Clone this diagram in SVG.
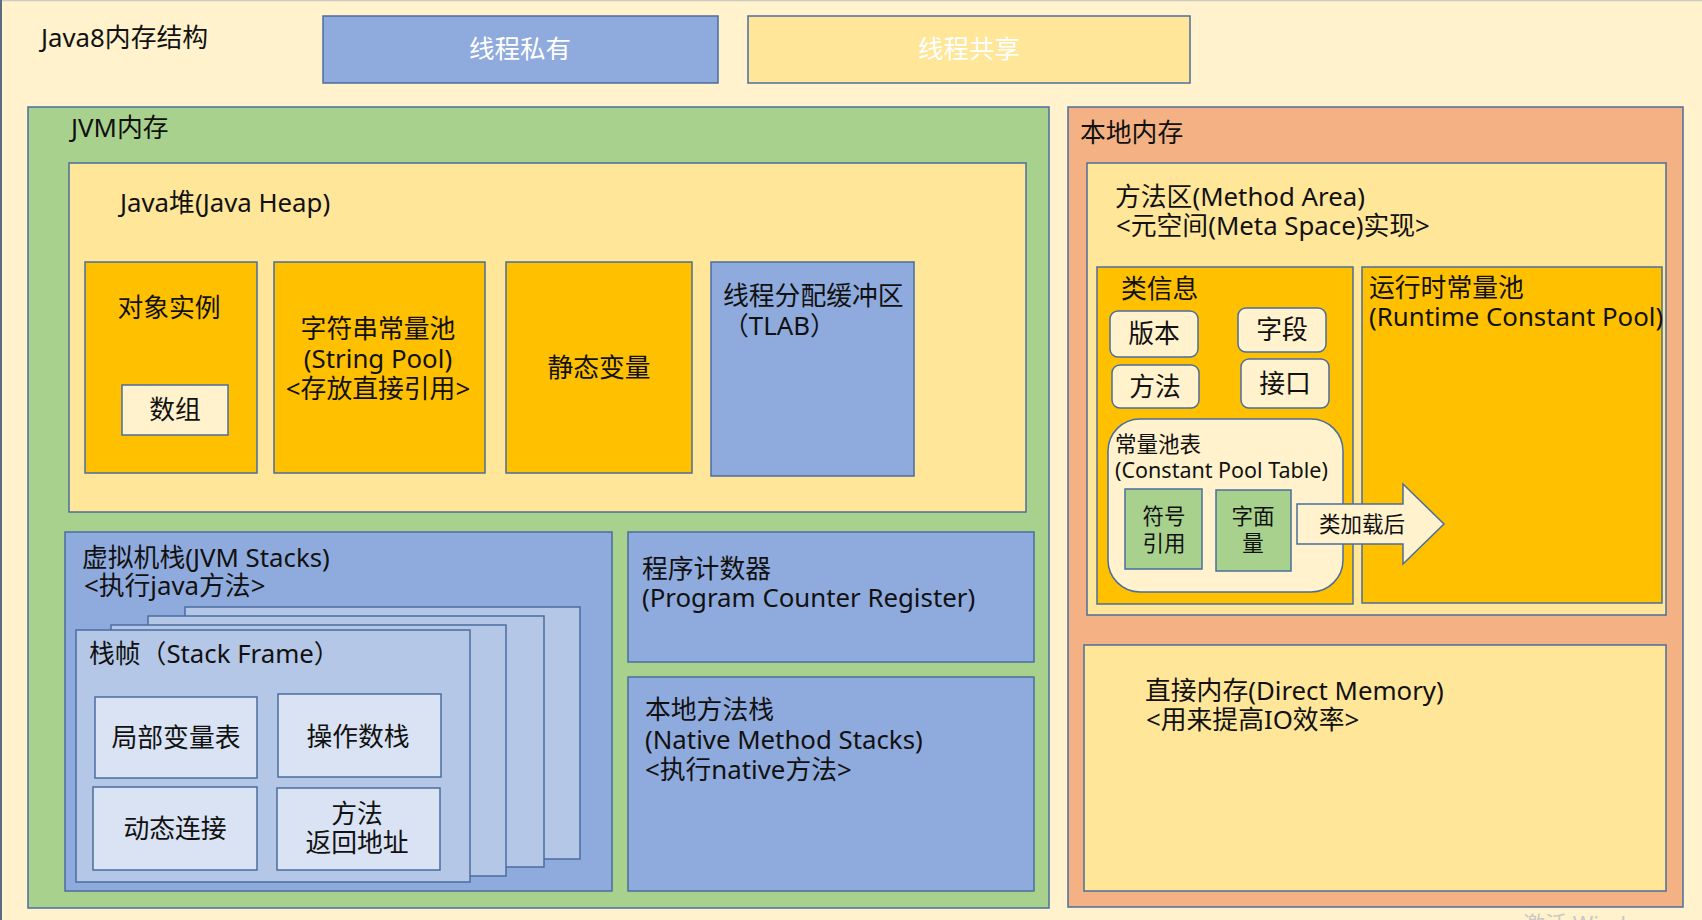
<svg xmlns="http://www.w3.org/2000/svg" width="1702" height="920" viewBox="0 0 1702 920">
<style>
.b{stroke:#4A6E9E;stroke-width:1.5}
.blue{fill:#8FAADC}.yel{fill:#FFE699}.org{fill:#FFC000}.cream{fill:#FFF2CC}.grn{fill:#A9D18E}.sal{fill:#F4B183}.lb{fill:#B4C7E7}.llb{fill:#DAE3F3}
text{font-family:"Noto Sans","Noto Sans CJK SC","Microsoft YaHei",sans-serif;fill:#111;font-size:25.8px}
.c{text-anchor:middle}
.w{fill:#fff;font-size:25.5px}
.s{font-size:21.5px}
</style>
<rect x="0" y="0" width="1702" height="920" fill="#FFF2CC"/>
<line x1="0" y1="0.5" x2="1702" y2="0.5" stroke="#C9CCC0" stroke-width="1.5"/>
<line x1="1" y1="0" x2="1" y2="920" stroke="#5A6A80" stroke-width="2"/>

<g id="title"><text x="41" y="47">Java8内存结构</text></g>

<g id="legend-private"><rect class="b blue" x="323" y="16" width="395" height="67"/><text class="c w" x="520" y="58">线程私有</text></g>
<g id="legend-shared"><rect class="b yel" x="748" y="16" width="442" height="67"/><text class="c w" x="969" y="58">线程共享</text></g>

<g id="jvm-memory"><rect class="b grn" x="28" y="107" width="1021" height="801"/><text x="71" y="137">JVM内存</text></g>

<g id="java-heap"><rect class="b yel" x="69" y="163" width="957" height="349"/><text x="120" y="212">Java堆(Java Heap)</text></g>
<g id="object-instance"><rect class="b org" x="85" y="262" width="172" height="211"/><text class="c" x="169" y="317">对象实例</text></g>
<g id="array"><rect class="b cream" x="122" y="385" width="106" height="50"/><text class="c" x="175" y="419">数组</text></g>
<g id="string-pool"><rect class="b org" x="274" y="262" width="211" height="211"/><text class="c" x="378" y="338">字符串常量池</text><text class="c" x="378" y="368">(String Pool)</text><text class="c" x="378" y="398">&lt;存放直接引用&gt;</text></g>
<g id="static-vars"><rect class="b org" x="506" y="262" width="186" height="211"/><text class="c" x="599" y="377">静态变量</text></g>
<g id="tlab"><rect class="b blue" x="711" y="262" width="203" height="214"/><text x="723" y="305">线程分配缓冲区</text><text x="723" y="335">（TLAB）</text></g>

<g id="jvm-stacks"><rect class="b blue" x="65" y="532" width="547" height="359"/><text x="82" y="567">虚拟机栈(JVM Stacks)</text><text x="84" y="595">&lt;执行java方法&gt;</text></g>
<g id="stack-frame-back"><rect class="b lb" x="185" y="607" width="395" height="252"/><rect class="b lb" x="148" y="616" width="396" height="251"/><rect class="b lb" x="111" y="625" width="395" height="251"/></g>
<g id="stack-frame"><rect class="b lb" x="76" y="630" width="394" height="252"/><text x="89" y="663">栈帧（Stack Frame）</text></g>
<g id="local-vars"><rect class="b llb" x="95" y="697" width="162" height="81"/><text class="c" x="176" y="747">局部变量表</text></g>
<g id="operand-stack"><rect class="b llb" x="278" y="694" width="163" height="83"/><text class="c" x="358" y="746">操作数栈</text></g>
<g id="dynamic-link"><rect class="b llb" x="93" y="787" width="164" height="83"/><text class="c" x="175" y="838">动态连接</text></g>
<g id="return-address"><rect class="b llb" x="277" y="788" width="163" height="82"/><text class="c" x="357" y="823">方法</text><text class="c" x="357" y="852">返回地址</text></g>

<g id="pc-register"><rect class="b blue" x="628" y="532" width="406" height="130"/><text x="642" y="578">程序计数器</text><text x="642" y="607">(Program Counter Register)</text></g>
<g id="native-stacks"><rect class="b blue" x="628" y="677" width="406" height="214"/><text x="645" y="719">本地方法栈</text><text x="645" y="749">(Native Method Stacks)</text><text x="645" y="779">&lt;执行native方法&gt;</text></g>

<g id="native-memory"><rect class="b sal" x="1068" y="107" width="615" height="800"/><text x="1080" y="142">本地内存</text></g>
<g id="method-area"><rect class="b yel" x="1087" y="163" width="579" height="452"/><text x="1115" y="206">方法区(Method Area)</text><text x="1116" y="235">&lt;元空间(Meta Space)实现&gt;</text></g>
<g id="class-info"><rect class="b org" x="1097" y="267" width="256" height="337"/><text x="1121" y="298">类信息</text></g>
<g id="version"><rect class="b cream" x="1110" y="311" width="88" height="46" rx="8"/><text class="c" x="1154" y="343">版本</text></g>
<g id="field"><rect class="b cream" x="1238" y="308" width="88" height="44" rx="8"/><text class="c" x="1282" y="339">字段</text></g>
<g id="method"><rect class="b cream" x="1112" y="365" width="87" height="43" rx="8"/><text class="c" x="1155" y="396">方法</text></g>
<g id="interface"><rect class="b cream" x="1241" y="359" width="88" height="49" rx="8"/><text class="c" x="1285" y="393">接口</text></g>
<g id="constant-pool-table"><rect class="b cream" x="1108" y="419" width="235" height="173" rx="32"/><text class="s" x="1115" y="452">常量池表</text><text class="s" x="1115" y="478">(Constant Pool Table)</text></g>
<g id="symbol-ref"><rect class="b grn" x="1125" y="489" width="77" height="80"/><text class="c s" x="1164" y="524">符号</text><text class="c s" x="1164" y="551">引用</text></g>
<g id="literal"><rect class="b grn" x="1216" y="490" width="75" height="81"/><text class="c s" x="1253" y="524">字面</text><text class="c s" x="1253" y="551">量</text></g>
<g id="runtime-pool"><rect class="b org" x="1362" y="267" width="300" height="336"/><text x="1369" y="297">运行时常量池</text><text x="1369" y="326">(Runtime Constant Pool)</text></g>

<g id="connectors"><g id="class-loaded-arrow"><path class="b cream" d="M1297,504 H1403 V484 L1444,524 L1403,564 V544 H1297 Z"/><text class="c s" x="1362" y="532">类加载后</text></g></g>

<g id="direct-memory"><rect class="b yel" x="1084" y="645" width="582" height="246"/><text x="1145" y="700">直接内存(Direct Memory)</text><text x="1146" y="729">&lt;用来提高IO效率&gt;</text></g>

<text x="1523" y="932" style="fill:#C8C8C8;font-size:22px">激活 Windows</text>
</svg>
